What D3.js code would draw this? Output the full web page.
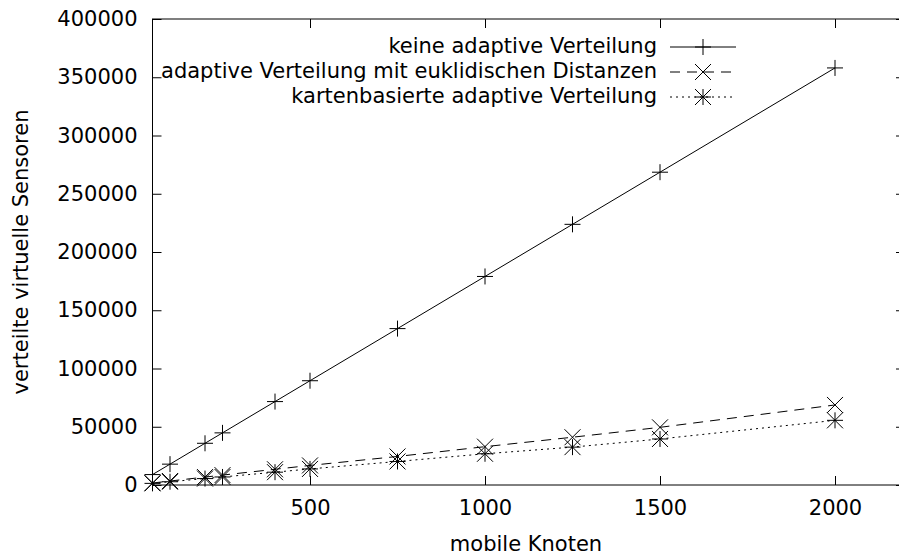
<!DOCTYPE html>
<html>
<head>
<meta charset="utf-8">
<script src="https://cdn.jsdelivr.net/npm/d3@7"></script>
<style>
  html, body { margin: 0; padding: 0; background: #fff; }
  svg { display: block; }
  text { font-family: "DejaVu Sans", sans-serif; fill: #000; }
</style>
</head>
<body>
<svg id="chart" width="899" height="557"></svg>
<script>
// ---- data ----
const nodes = [50, 100, 200, 250, 400, 500, 750, 1000, 1250, 1500, 2000];
const keineAdaptive = [8950, 17900, 35800, 44750, 71600, 89500, 134250, 179000, 223750, 268500, 358000];
const euklidisch = [1700, 3400, 6800, 8500, 13500, 16800, 24500, 32900, 41000, 49500, 68700];
const kartenbasiert = [1400, 2800, 5500, 6900, 11000, 13800, 20200, 26800, 32500, 39500, 55500];
const seriesNames = ["keine adaptive Verteilung", "adaptive Verteilung mit euklidischen Distanzen", "kartenbasierte adaptive Verteilung"];
const xTicks = [500, 1000, 1500, 2000];
const yTicks = [0, 50000, 100000, 150000, 200000, 250000, 300000, 350000, 400000];
const xLabel = "mobile Knoten";
const yLabel = "verteilte virtuelle Sensoren";

// ---- layout ----
const svg = d3.select("#chart");
const pLeft = 152.5, pRight = 905, pTop = 19, pBottom = 485;
const x = d3.scaleLinear().domain([50, 2200]).range([pLeft, pRight]);
const y = d3.scaleLinear().domain([0, 400000]).range([pBottom, pTop]);
const FS = 21;
const tickLen = 9;

// axes (gnuplot style: ticks inward, mirrored)
const gx = svg.append("g").attr("transform", `translate(0,${pBottom})`)
  .call(d3.axisBottom(x).tickValues(xTicks).tickSize(-tickLen).tickPadding(15).tickFormat(d3.format("d")));
const gxTop = svg.append("g").attr("transform", `translate(0,${pTop})`)
  .call(d3.axisTop(x).tickValues(xTicks).tickSize(-tickLen).tickFormat(""));
const gy = svg.append("g").attr("transform", `translate(${pLeft},0)`)
  .call(d3.axisLeft(y).tickValues(yTicks).tickSize(-tickLen).tickPadding(15).tickFormat(d3.format("d")));
const gyR = svg.append("g").attr("transform", `translate(${pRight},0)`)
  .call(d3.axisRight(y).tickValues(yTicks).tickSize(-tickLen).tickFormat(""));
[gx, gxTop, gy, gyR].forEach(g => {
  g.select(".domain").remove();
  g.selectAll(".tick line").attr("stroke", "#000").attr("stroke-width", 1);
  g.selectAll("text").attr("font-size", FS).attr("font-family", "DejaVu Sans").attr("fill", "#000");
});

// border
svg.append("rect").attr("x", pLeft).attr("y", pTop)
  .attr("width", pRight - pLeft).attr("height", pBottom - pTop)
  .attr("fill", "none").attr("stroke", "#000").attr("stroke-width", 1);

// axis labels
svg.append("text").attr("x", 526).attr("y", 545)
  .attr("text-anchor", "middle").attr("dominant-baseline", "middle")
  .attr("font-size", FS).text(xLabel);
svg.append("text").attr("transform", `translate(22,${(pTop + pBottom) / 2}) rotate(-90)`)
  .attr("text-anchor", "middle").attr("dominant-baseline", "middle")
  .attr("font-size", FS).text(yLabel);

// markers
const R = 8;
function marker(g, type, cx, cy) {
  const p = d3.path();
  if (type === "plus" || type === "star") {
    p.moveTo(cx - R, cy); p.lineTo(cx + R, cy);
    p.moveTo(cx, cy - R); p.lineTo(cx, cy + R);
  }
  if (type === "cross" || type === "star") {
    p.moveTo(cx - R, cy - R); p.lineTo(cx + R, cy + R);
    p.moveTo(cx - R, cy + R); p.lineTo(cx + R, cy - R);
  }
  g.append("path").attr("d", p.toString()).attr("stroke", "#000").attr("stroke-width", 1).attr("fill", "none");
}

const series = [
  { name: seriesNames[0], values: keineAdaptive, dash: null, mark: "plus" },
  { name: seriesNames[1], values: euklidisch, dash: "10,7", mark: "cross" },
  { name: seriesNames[2], values: kartenbasiert, dash: "2,4", mark: "star" }
];

const line = d3.line().x(d => x(d[0])).y(d => y(d[1]));
const plot = svg.append("g");
series.forEach(s => {
  const pts = nodes.map((n, i) => [n, s.values[i]]);
  plot.append("path").datum(pts).attr("d", line)
    .attr("fill", "none").attr("stroke", "#000").attr("stroke-width", 1)
    .attr("stroke-dasharray", s.dash);
  pts.forEach(p => marker(plot, s.mark, x(p[0]), y(p[1])));
});

// legend
const legendY = [47, 72, 97];
const lg = svg.append("g");
series.forEach((s, i) => {
  const ly = legendY[i];
  lg.append("text").attr("x", 657).attr("y", ly).attr("text-anchor", "end")
    .attr("dominant-baseline", "middle").attr("font-size", FS).text(s.name);
  lg.append("line").attr("x1", 670).attr("x2", 736).attr("y1", ly).attr("y2", ly)
    .attr("stroke", "#000").attr("stroke-width", 1).attr("stroke-dasharray", s.dash);
  marker(lg, s.mark, 703, ly);
});
</script>
</body>
</html>
